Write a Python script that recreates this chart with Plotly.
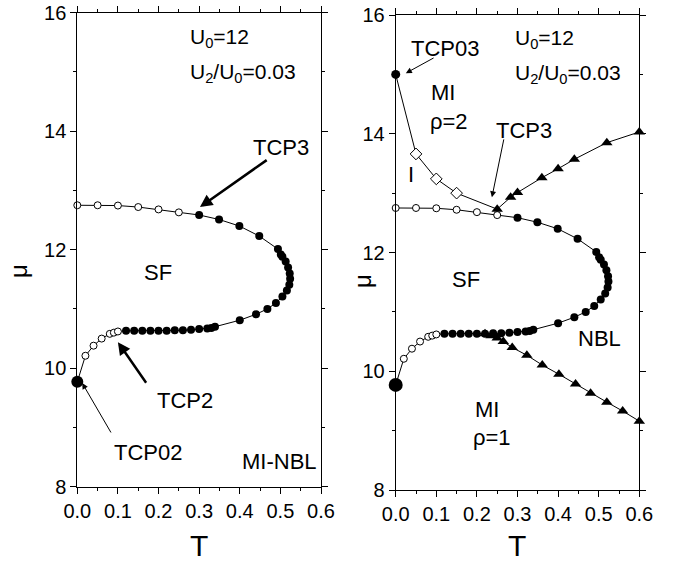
import plotly.graph_objects as go

FONT = "Arial, Liberation Sans, sans-serif"

# Phase boundary S-curve mu(T), ordered along the curve (shared by both panels)
tcp02_T = [0.0]
tcp02_mu = [9.77]

open_lower_T = [0.02, 0.04, 0.06, 0.08, 0.09, 0.10]
open_lower_mu = [10.21, 10.38, 10.50, 10.58, 10.60, 10.62]

filled_T = [0.12, 0.14, 0.16, 0.18, 0.20, 0.22, 0.24, 0.26, 0.28, 0.30,
            0.32, 0.33, 0.339,
            0.40, 0.44, 0.468, 0.489, 0.505, 0.516, 0.522, 0.524, 0.523,
            0.519, 0.513, 0.505, 0.501, 0.494, 0.448, 0.399, 0.349, 0.30]
filled_mu = [10.63, 10.63, 10.63, 10.63, 10.63, 10.63, 10.64, 10.64, 10.65, 10.66,
             10.67, 10.68, 10.70,
             10.81, 10.91, 11.00, 11.10, 11.21, 11.31, 11.41, 11.51, 11.60,
             11.70, 11.80, 11.88, 11.92, 12.01, 12.23, 12.40, 12.51, 12.586]

open_upper_T = [0.25, 0.20, 0.15, 0.10, 0.05, 0.0]
open_upper_mu = [12.63, 12.68, 12.72, 12.745, 12.75, 12.75]

# Extra boundaries of the right panel
tcp03_T = [0.0]
tcp03_mu = [15.0]
diamond_T = [0.05, 0.10, 0.15]
diamond_mu = [13.66, 13.24, 13.00]
tri_up_T = [0.25, 0.283, 0.30, 0.36, 0.40, 0.44, 0.52, 0.60]
tri_up_mu = [12.73, 12.93, 13.01, 13.26, 13.41, 13.57, 13.85, 14.03]
tri_lo_T = [0.22, 0.235, 0.25, 0.265, 0.287, 0.323, 0.361, 0.402, 0.443,
            0.480, 0.520, 0.559, 0.600]
tri_lo_mu = [10.63, 10.60, 10.56, 10.50, 10.40, 10.27, 10.105, 9.95, 9.785,
             9.63, 9.48, 9.33, 9.16]

x_ticks = [0.0, 0.1, 0.2, 0.3, 0.4, 0.5, 0.6]
y_ticks = [8, 10, 12, 14, 16]

curve_T = tcp02_T + open_lower_T + filled_T + open_upper_T
curve_mu = tcp02_mu + open_lower_mu + filled_mu + open_upper_mu

fig = go.Figure()


def add_curve(xa, ya, big_size):
    fig.add_trace(go.Scatter(x=curve_T, y=curve_mu, mode="lines",
                             line=dict(color="black", width=1),
                             xaxis=xa, yaxis=ya, cliponaxis=False))
    fig.add_trace(go.Scatter(x=open_lower_T + open_upper_T,
                             y=open_lower_mu + open_upper_mu, mode="markers",
                             marker=dict(symbol="circle", size=7, color="white",
                                         line=dict(color="black", width=1)),
                             xaxis=xa, yaxis=ya, cliponaxis=False))
    fig.add_trace(go.Scatter(x=filled_T, y=filled_mu, mode="markers",
                             marker=dict(symbol="circle", size=8, color="black"),
                             xaxis=xa, yaxis=ya, cliponaxis=False))
    fig.add_trace(go.Scatter(x=tcp02_T, y=tcp02_mu, mode="markers",
                             marker=dict(symbol="circle", size=big_size, color="black"),
                             xaxis=xa, yaxis=ya, cliponaxis=False))


add_curve("x", "y", 12)

# Right panel: MI(rho=2) boundary and NBL boundaries
fig.add_trace(go.Scatter(x=tcp03_T + diamond_T + [tri_up_T[0]],
                         y=tcp03_mu + diamond_mu + [tri_up_mu[0]], mode="lines",
                         line=dict(color="black", width=1),
                         xaxis="x2", yaxis="y2", cliponaxis=False))
fig.add_trace(go.Scatter(x=tri_up_T, y=tri_up_mu, mode="lines",
                         line=dict(color="black", width=1),
                         xaxis="x2", yaxis="y2", cliponaxis=False))
fig.add_trace(go.Scatter(x=tri_lo_T, y=tri_lo_mu, mode="lines",
                         line=dict(color="black", width=1),
                         xaxis="x2", yaxis="y2", cliponaxis=False))
add_curve("x2", "y2", 14)
fig.add_trace(go.Scatter(x=diamond_T, y=diamond_mu, mode="markers",
                         marker=dict(symbol="diamond", size=9, color="white",
                                     line=dict(color="black", width=1)),
                         xaxis="x2", yaxis="y2", cliponaxis=False))
fig.add_trace(go.Scatter(x=tri_up_T + tri_lo_T, y=tri_up_mu + tri_lo_mu,
                         mode="markers",
                         marker=dict(symbol="triangle-up", size=10, color="black"),
                         xaxis="x2", yaxis="y2", cliponaxis=False))
fig.add_trace(go.Scatter(x=tcp03_T, y=tcp03_mu, mode="markers",
                         marker=dict(symbol="circle", size=9, color="black"),
                         xaxis="x2", yaxis="y2", cliponaxis=False))

W, H = 673, 562


def xaxis_cfg(l, r, anchor):
    return dict(domain=[l / W, r / W], range=[0, 0.6], tickvals=x_ticks,
                ticktext=[f"{v:.1f}" for v in x_ticks], anchor=anchor,
                automargin=False,
                ticks="outside", ticklen=6, tickwidth=1, tickcolor="black",
                minor=dict(ticks="outside", ticklen=3, tickwidth=1,
                           tickcolor="black", dtick=0.05, tick0=0),
                showline=True, linecolor="black", linewidth=1, mirror="allticks",
                showgrid=False, zeroline=False,
                tickfont=dict(family=FONT, size=20, color="black"))


def yaxis_cfg(b, t, anchor):
    return dict(domain=[1 - b / H, 1 - t / H], range=[8, 16], tickvals=y_ticks,
                anchor=anchor, automargin=False,
                ticks="outside", ticklen=6, tickwidth=1, tickcolor="black",
                minor=dict(ticks="outside", ticklen=3, tickwidth=1,
                           tickcolor="black", dtick=1, tick0=0),
                showline=True, linecolor="black", linewidth=1, mirror="allticks",
                showgrid=False, zeroline=False,
                tickfont=dict(family=FONT, size=20, color="black"))


ann = []


def label(text, x, y, xr, yr, size=22, xanchor="center"):
    ann.append(dict(text=text, x=x, y=y, xref=xr, yref=yr, showarrow=False,
                    xanchor=xanchor, yanchor="middle",
                    font=dict(family=FONT, size=size, color="black")))


def arrow(tip, tail, xr, yr, width):
    ann.append(dict(text="", x=tip[0], y=tip[1], ax=tail[0], ay=tail[1],
                    xref=xr, yref=yr, axref=xr, ayref=yr, showarrow=True,
                    arrowhead=2, arrowsize=1.2 if width < 2 else 1.0,
                    arrowwidth=width, arrowcolor="black"))


# Left panel texts
label("U<sub>0</sub>=12", 0.273, 15.58, "x", "y", 21, "left")
label("U<sub>2</sub>/U<sub>0</sub>=0.03", 0.273, 14.98, "x", "y", 21, "left")
label("TCP3", 0.501, 13.73, "x", "y")
label("SF", 0.199, 11.61, "x", "y")
label("TCP2", 0.265, 9.46, "x", "y")
label("TCP02", 0.174, 8.58, "x", "y")
label("MI-NBL", 0.499, 8.43, "x", "y")
arrow((0.302, 12.72), (0.470, 13.53), "x", "y", 2.5)
arrow((0.100, 10.44), (0.172, 9.73), "x", "y", 2.5)
arrow((0.012, 9.75), (0.085, 8.89), "x", "y", 1)

# Right panel texts
label("TCP03", 0.121, 15.44, "x2", "y2")
label("U<sub>0</sub>=12", 0.289, 15.6, "x2", "y2", 21, "left")
label("U<sub>2</sub>/U<sub>0</sub>=0.03", 0.289, 15.0, "x2", "y2", 21, "left")
label("MI", 0.117, 14.70, "x2", "y2")
label("ρ=2", 0.131, 14.21, "x2", "y2")
label("TCP3", 0.316, 14.06, "x2", "y2")
label("I", 0.038, 13.31, "x2", "y2")
label("SF", 0.173, 11.54, "x2", "y2")
label("NBL", 0.503, 10.56, "x2", "y2")
label("MI", 0.225, 9.35, "x2", "y2")
label("ρ=1", 0.237, 8.89, "x2", "y2")
arrow((0.025, 15.02), (0.097, 15.29), "x2", "y2", 1)
arrow((0.237, 12.93), (0.267, 13.93), "x2", "y2", 1)

# Axis titles
label("T", 199 / W, 1 - 545 / H, "paper", "paper", 30)
label("T", 517 / W, 1 - 545 / H, "paper", "paper", 30)
for px, py in [(19, 271), (362, 281)]:
    ann.append(dict(text="μ", x=px / W, y=1 - py / H, xref="paper", yref="paper",
                    showarrow=False, textangle=-90, xanchor="center",
                    yanchor="middle",
                    font=dict(family=FONT, size=24, color="black")))

fig.update_layout(
    width=W, height=H, showlegend=False,
    margin=dict(l=0, r=0, t=0, b=0, autoexpand=False),
    paper_bgcolor="white", plot_bgcolor="white",
    xaxis=xaxis_cfg(77.3, 321, "y"),
    yaxis=yaxis_cfg(486.7, 12.7, "x"),
    xaxis2=xaxis_cfg(395.7, 639.3, "y2"),
    yaxis2=yaxis_cfg(490, 15, "x2"),
    annotations=ann,
)

fig.write_html("out.html")
